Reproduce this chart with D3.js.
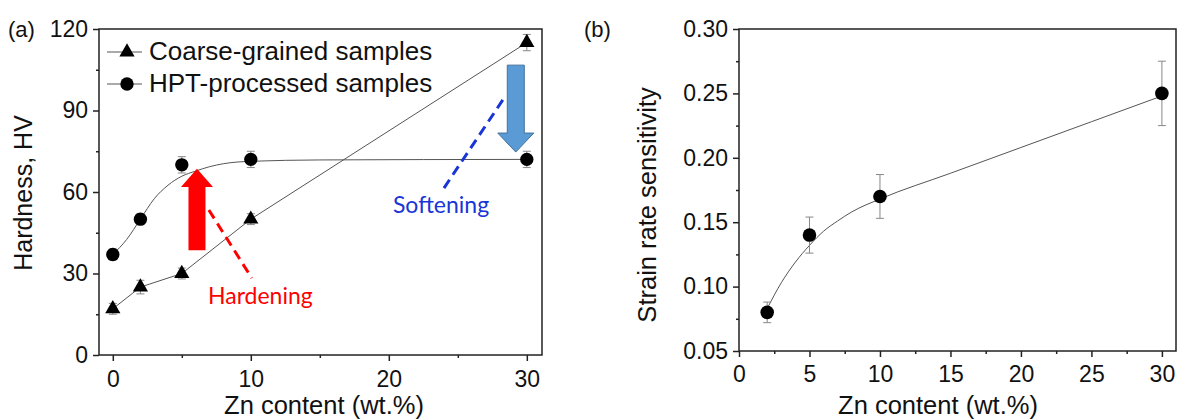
<!DOCTYPE html>
<html>
<head>
<meta charset="utf-8">
<script src="https://cdn.jsdelivr.net/npm/d3@7"></script>
<style>
  body { margin: 0; background: #fff; }
  text { font-family: "Liberation Sans", Arial, sans-serif; fill: #111; }
</style>
</head>
<body>
<div id="container"></div>
<script>
// ---- data ----
const zn = [0, 2, 5, 10, 30];
const coarseHV = [17, 25, 30, 50, 115];
const coarseErr = [2, 2.5, 2, 2, 3];
const hptHV = [37, 50, 70, 72, 72];
const hptErr = [2, 2, 3, 3, 3];
// fitted sigmoid drawn through the HPT points
const hptFitX = [0, 1, 2, 3, 4, 5, 6, 7, 8, 10, 15, 30];
const hptFitY = [37, 42.5, 50, 57.5, 62.5, 65.8, 67.7, 69.3, 70.4, 71.3, 71.8, 72];

const znB = [2, 5, 10, 30];
const srs = [0.08, 0.14, 0.17, 0.25];
const srsErr = [0.008, 0.014, 0.017, 0.025];
const srsFitX = [2, 3, 4, 5, 6, 7, 8, 10, 15, 20, 25, 30];
const srsFitY = [0.083, 0.103, 0.119, 0.132, 0.143, 0.151, 0.158, 0.168, 0.188, 0.208, 0.228, 0.248];

const ticksA_y = [0, 30, 60, 90, 120];
const ticksA_x = [0, 10, 20, 30];
const ticksB_y = [0.05, 0.10, 0.15, 0.20, 0.25, 0.30];
const ticksB_x = [0, 5, 10, 15, 20, 25, 30];

const W = 1181, H = 419;

const svg = d3.select('#container')
  .append('svg')
  .attr('width', W)
  .attr('height', H);

const axisColor = '#222';
const curveColor = '#555';

// ---- helpers ----
const styleAxis = (g) => {
  g.selectAll('path, line').attr('stroke', axisColor).attr('stroke-width', 1.5);
  g.selectAll('text').style('font-size', '23px').attr('fill', '#111');
}

const drawFrame = (xScale, yScale, xTicks, xMinor, yTicks, yMinor, yFmt, xPad) => {
  const [x0, x1] = xScale.range();
  const [y0, y1] = yScale.range();

  //minor ticks
  svg.append('g')
    .attr('transform', `translate(0, ${y0})`)
    .call(d3.axisBottom(xScale).tickValues(xMinor).tickSize(3).tickFormat(''))
    .call(g => g.select('.domain').remove())
    .call(styleAxis);
  svg.append('g')
    .attr('transform', `translate(${x0}, 0)`)
    .call(d3.axisLeft(yScale).tickValues(yMinor).tickSize(3).tickFormat(''))
    .call(g => g.select('.domain').remove())
    .call(styleAxis);

  //major ticks
  svg.append('g')
    .attr('transform', `translate(0, ${y0})`)
    .call(d3.axisBottom(xScale).tickValues(xTicks).tickSize(6).tickSizeOuter(0).tickPadding(xPad).tickFormat(d3.format('d')))
    .call(g => g.select('.domain').remove())
    .call(styleAxis);
  svg.append('g')
    .attr('transform', `translate(${x0}, 0)`)
    .call(d3.axisLeft(yScale).tickValues(yTicks).tickSize(6).tickSizeOuter(0).tickPadding(5).tickFormat(yFmt))
    .call(g => g.select('.domain').remove())
    .call(styleAxis);

  //box
  svg.append('rect')
    .attr('x', x0)
    .attr('y', y1)
    .attr('width', x1 - x0)
    .attr('height', y0 - y1)
    .attr('fill', 'none')
    .attr('stroke', axisColor)
    .attr('stroke-width', 1.5);
}

const drawErrors = (xs, ys, errs, xScale, yScale) => {
  const g = svg.append('g').attr('stroke', '#888').attr('stroke-width', 1);
  xs.forEach((x, i) => {
    const cx = xScale(x);
    const top = yScale(ys[i] + errs[i]);
    const bot = yScale(ys[i] - errs[i]);
    g.append('line').attr('x1', cx).attr('x2', cx).attr('y1', top).attr('y2', bot);
    g.append('line').attr('x1', cx - 4).attr('x2', cx + 4).attr('y1', top).attr('y2', top);
    g.append('line').attr('x1', cx - 4).attr('x2', cx + 4).attr('y1', bot).attr('y2', bot);
  });
}

const drawMarkers = (xs, ys, symbol, size, xScale, yScale) => {
  svg.append('g')
    .selectAll('path')
    .data(xs)
    .enter()
    .append('path')
    .attr('transform', (d, i) => `translate(${xScale(d)}, ${yScale(ys[i])})`)
    .attr('d', d3.symbol().type(symbol).size(size))
    .attr('fill', '#000');
}

// ================= panel (a) =================
const xA = d3.scaleLinear().domain([-1, 31.1]).range([99, 542]);
const yA = d3.scaleLinear().domain([0, 120]).range([355, 29]);

drawFrame(xA, yA, ticksA_x, [5, 15, 25], ticksA_y, [15, 45, 75, 105], d3.format('d'), 10);

const lineA = d3.line()
  .x(d => xA(d[0]))
  .y(d => yA(d[1]));

//coarse-grained curve
svg.append('path')
  .datum(zn.map((d, i) => [d, coarseHV[i]]))
  .attr('d', lineA.curve(d3.curveLinear))
  .attr('fill', 'none')
  .attr('stroke', curveColor)
  .attr('stroke-width', 1);

//HPT fit curve
svg.append('path')
  .datum(hptFitX.map((d, i) => [d, hptFitY[i]]))
  .attr('d', lineA.curve(d3.curveMonotoneX))
  .attr('fill', 'none')
  .attr('stroke', curveColor)
  .attr('stroke-width', 1);

drawErrors(zn, coarseHV, coarseErr, xA, yA);
drawErrors(zn, hptHV, hptErr, xA, yA);
drawMarkers(zn, coarseHV, d3.symbolTriangle, 100, xA, yA);
drawMarkers(zn, hptHV, d3.symbolCircle, 140, xA, yA);

//arrows (data-space anchors, pixel half widths)
const arrow = (xv, yFrom, yHead, yTip, shaftHalf, headHalf) => {
  const cx = xA(xv);
  return [
    [cx - shaftHalf, yA(yFrom)], [cx + shaftHalf, yA(yFrom)],
    [cx + shaftHalf, yA(yHead)], [cx + headHalf, yA(yHead)],
    [cx, yA(yTip)],
    [cx - headHalf, yA(yHead)], [cx - shaftHalf, yA(yHead)]
  ].map(p => p.join(',')).join(' ');
}

svg.append('polygon')
  .attr('points', arrow(6.1, 38.6, 61.8, 68.6, 8.5, 16))
  .attr('fill', '#ff0000');

svg.append('polygon')
  .attr('points', arrow(29.2, 106.7, 81.7, 74.7, 8.5, 18))
  .attr('fill', '#5b9bd5')
  .attr('stroke', '#41719c')
  .attr('stroke-width', 1);

//dashed pointers
svg.append('line')
  .attr('x1', xA(6.96)).attr('y1', yA(53.4))
  .attr('x2', xA(10.07)).attr('y2', yA(28.3))
  .attr('stroke', '#ff0000')
  .attr('stroke-width', 3)
  .attr('stroke-dasharray', '10,6');

svg.append('line')
  .attr('x1', xA(28.26)).attr('y1', yA(93.9))
  .attr('x2', xA(23.9)).attr('y2', yA(60.7))
  .attr('stroke', '#1a35d6')
  .attr('stroke-width', 3)
  .attr('stroke-dasharray', '10,6');

svg.append('text')
  .attr('x', xA(6.9))
  .attr('y', yA(18.8))
  .style('font-family', 'Lato, "Open Sans", sans-serif')
  .style('font-size', '23px')
  .style('fill', '#ff0000')
  .text('Hardening');

svg.append('text')
  .attr('x', xA(20.3))
  .attr('y', yA(52.3))
  .style('font-family', 'Lato, "Open Sans", sans-serif')
  .style('font-size', '23px')
  .style('fill', '#1a35d6')
  .text('Softening');

//legend
const legend = svg.append('g').attr('transform', 'translate(107, 0)');
[['Coarse-grained samples', d3.symbolTriangle, 100, 52, 60], ['HPT-processed samples', d3.symbolCircle, 140, 84, 92]]
  .forEach(([label, sym, size, ly, ty]) => {
    legend.append('line')
      .attr('x1', 0).attr('x2', 35)
      .attr('y1', ly).attr('y2', ly)
      .attr('stroke', curveColor)
      .attr('stroke-width', 1);
    legend.append('path')
      .attr('transform', `translate(20, ${ly})`)
      .attr('d', d3.symbol().type(sym).size(size))
      .attr('fill', '#000');
    legend.append('text')
      .attr('x', 42)
      .attr('y', ty)
      .style('font-size', '26px')
      .text(label);
  });

//labels
svg.append('text')
  .attr('x', 8).attr('y', 37)
  .style('font-size', '22px')
  .text('(a)');

svg.append('text')
  .attr('transform', 'translate(32, 193) rotate(-90)')
  .attr('text-anchor', 'middle')
  .style('font-size', '25px')
  .text('Hardness, HV');

svg.append('text')
  .attr('x', 324).attr('y', 414)
  .attr('text-anchor', 'middle')
  .style('font-size', '25.5px')
  .text('Zn content (wt.%)');

// ================= panel (b) =================
const xB = d3.scaleLinear().domain([0, 31]).range([739, 1176]);
const yB = d3.scaleLinear().domain([0.05, 0.30]).range([351, 29]);

drawFrame(xB, yB, ticksB_x, [2.5, 7.5, 12.5, 17.5, 22.5, 27.5], ticksB_y, [0.075, 0.125, 0.175, 0.225, 0.275], d3.format('.2f'), 9);

svg.append('path')
  .datum(srsFitX.map((d, i) => [d, srsFitY[i]]))
  .attr('d', d3.line().x(d => xB(d[0])).y(d => yB(d[1])).curve(d3.curveMonotoneX))
  .attr('fill', 'none')
  .attr('stroke', curveColor)
  .attr('stroke-width', 1);

drawErrors(znB, srs, srsErr, xB, yB);
drawMarkers(znB, srs, d3.symbolCircle, 145, xB, yB);

svg.append('text')
  .attr('x', 584).attr('y', 37)
  .style('font-size', '22px')
  .text('(b)');

svg.append('text')
  .attr('transform', 'translate(656, 205) rotate(-90)')
  .attr('text-anchor', 'middle')
  .style('font-size', '25.5px')
  .text('Strain rate sensitivity');

svg.append('text')
  .attr('x', 938).attr('y', 414)
  .attr('text-anchor', 'middle')
  .style('font-size', '25.5px')
  .text('Zn content (wt.%)');
</script>
</body>
</html>
